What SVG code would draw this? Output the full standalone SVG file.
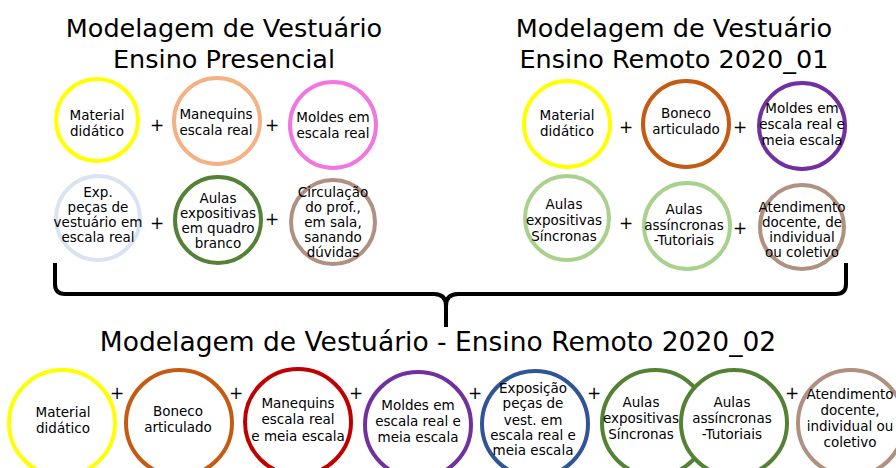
<svg xmlns="http://www.w3.org/2000/svg" width="896" height="468" viewBox="0 0 896 468">
<style>
text{font-family:"DejaVu Sans","Liberation Sans",sans-serif;fill:#000;text-anchor:middle}
.t{font-size:25.5px}
.b{font-size:26.5px}
.n{font-size:13.5px}
.p{font-size:17px}
circle{fill:#fff;stroke-width:4}
</style>
<rect width="896" height="468" fill="#fff"/>
<g id="title-presencial"><text class="t" x="224" y="37">Modelagem de Vestuário</text><text class="t" x="224" y="68">Ensino Presencial</text></g>
<g id="title-remoto01"><text class="t" x="674" y="37">Modelagem de Vestuário</text><text class="t" x="674" y="68">Ensino Remoto 2020_01</text></g>
<g id="title-remoto02"><text class="b" x="438" y="351">Modelagem de Vestuário - Ensino Remoto 2020_02</text></g>

<g id="connectors" fill="none" stroke="#000" stroke-width="4" stroke-linecap="butt">
<path d="M55,263 V284 Q55,294 65,294 H434 Q446,294 446,306 V327"/>
<path d="M846,263 V284 Q846,294 836,294 H458 Q446,294 446,306"/>
</g>

<g id="plus">
<text class="p" x="157" y="131">+</text><text class="p" x="272" y="131">+</text>
<text class="p" x="157" y="229">+</text><text class="p" x="272" y="225">+</text>
<text class="p" x="626" y="133">+</text><text class="p" x="740" y="133">+</text>
<text class="p" x="626" y="229">+</text><text class="p" x="740" y="234">+</text>
<text class="p" x="117" y="399">+</text><text class="p" x="236" y="399">+</text><text class="p" x="356" y="399">+</text>
<text class="p" x="475" y="399">+</text><text class="p" x="594" y="399">+</text><text class="p" x="792" y="399">+</text>
</g>

<g id="p-material"><circle cx="97" cy="120" r="41" stroke="#ffff00"/><text class="n" x="97" y="120">Material</text><text class="n" x="97" y="136">didático</text></g>
<g id="p-manequins"><circle cx="217" cy="121" r="43" stroke="#f4b183"/><text class="n" x="216" y="119">Manequins</text><text class="n" x="216" y="135">escala real</text></g>
<g id="p-moldes"><circle cx="333" cy="125" r="43" stroke="#f077e0"/><text class="n" x="333" y="122">Moldes em</text><text class="n" x="333" y="138">escala real</text></g>
<g id="p-exp"><circle cx="98" cy="218" r="42" stroke="#dae3f3"/><text class="n" x="98" y="197">Exp.</text><text class="n" x="98" y="212">peças de</text><text class="n" x="98" y="227">vestuário em</text><text class="n" x="98" y="242">escala real</text></g>
<g id="p-aulas"><circle cx="218" cy="220" r="43" stroke="#548235"/><text class="n" x="218" y="203">Aulas</text><text class="n" x="218" y="218">expositivas</text><text class="n" x="218" y="233">em quadro</text><text class="n" x="218" y="248">branco</text></g>
<g id="p-circulacao"><circle cx="333" cy="222" r="42" stroke="#b09080"/><text class="n" x="333" y="197">Circulação</text><text class="n" x="333" y="212">do prof.,</text><text class="n" x="333" y="227">em sala,</text><text class="n" x="333" y="242">sanando</text><text class="n" x="333" y="257">dúvidas</text></g>

<g id="r1-material"><circle cx="567" cy="124" r="43" stroke="#ffff00"/><text class="n" x="567" y="120">Material</text><text class="n" x="567" y="136">didático</text></g>
<g id="r1-boneco"><circle cx="686" cy="124" r="43" stroke="#c55a11"/><text class="n" x="686" y="118">Boneco</text><text class="n" x="686" y="134">articulado</text></g>
<g id="r1-moldes"><circle cx="802" cy="126" r="43" stroke="#7030a0"/><text class="n" x="802" y="113">Moldes em</text><text class="n" x="802" y="129">escala real e</text><text class="n" x="802" y="145">meia escala</text></g>
<g id="r1-sincronas"><circle cx="567" cy="218" r="42" stroke="#a9d18e"/><text class="n" x="564" y="209">Aulas</text><text class="n" x="564" y="225">expositivas</text><text class="n" x="564" y="241">Síncronas</text></g>
<g id="r1-assincronas"><circle cx="687" cy="226" r="43" stroke="#a9d18e"/><text class="n" x="684" y="214">Aulas</text><text class="n" x="684" y="230">assíncronas</text><text class="n" x="684" y="245">-Tutoriais</text></g>
<g id="r1-atendimento"><circle cx="802" cy="227" r="42" stroke="#b09080"/><text class="n" x="802" y="212">Atendimento</text><text class="n" x="802" y="227">docente, de</text><text class="n" x="802" y="242">individual</text><text class="n" x="802" y="257">ou coletivo</text></g>

<g id="r2-material"><circle cx="62" cy="423" r="53" stroke="#ffff00"/><text class="n" x="63" y="417">Material</text><text class="n" x="63" y="433">didático</text></g>
<g id="r2-boneco"><circle cx="179" cy="423" r="53" stroke="#c55a11"/><text class="n" x="178" y="416">Boneco</text><text class="n" x="178" y="432">articulado</text></g>
<g id="r2-manequins"><circle cx="298" cy="422" r="53" stroke="#c00000"/><text class="n" x="298" y="408">Manequins</text><text class="n" x="298" y="424">escala real</text><text class="n" x="298" y="441">e meia escala</text></g>
<g id="r2-moldes"><circle cx="418" cy="425" r="53" stroke="#7030a0"/><text class="n" x="418" y="410">Moldes em</text><text class="n" x="418" y="426">escala real e</text><text class="n" x="418" y="442">meia escala</text></g>
<g id="r2-exposicao"><circle cx="535" cy="424" r="53" stroke="#2f5597"/><text class="n" x="533" y="393">Exposição</text><text class="n" x="533" y="408">peças de</text><text class="n" x="533" y="425">vest. em</text><text class="n" x="533" y="440">escala real e</text><text class="n" x="533" y="455">meia escala</text></g>
<g id="r2-sincronas"><circle cx="655" cy="423" r="53" stroke="#548235"/><text class="n" x="641" y="407">Aulas</text><text class="n" x="641" y="423">expositivas</text><text class="n" x="641" y="439">Síncronas</text></g>
<g id="r2-assincronas"><circle cx="734" cy="423" r="53" stroke="#548235" fill="none"/><text class="n" x="732" y="407">Aulas</text><text class="n" x="732" y="423">assíncronas</text><text class="n" x="732" y="439">-Tutoriais</text></g>
<g id="r2-atendimento"><circle cx="851" cy="423" r="53" stroke="#b09080"/><text class="n" x="850" y="399">Atendimento</text><text class="n" x="850" y="415">docente,</text><text class="n" x="850" y="431">individual ou</text><text class="n" x="850" y="447">coletivo</text></g>
</svg>
